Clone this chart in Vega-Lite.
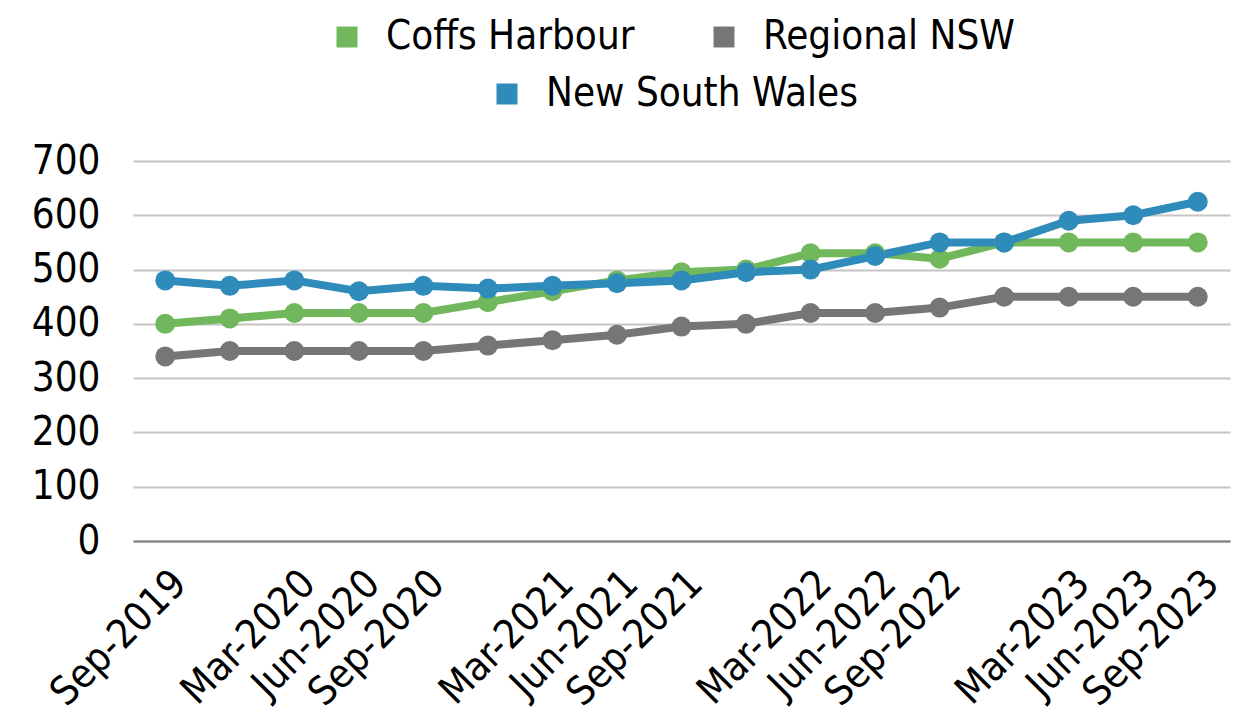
{
  "$schema": "https://vega.github.io/schema/vega-lite/v6.json",
  "width": 1097,
  "height": 380,
  "autosize": {"type": "none"},
  "padding": {"left": 133, "top": 161, "right": 19, "bottom": 175},
  "background": "white",
  "config": {
    "view": {"stroke": null},
    "font": "DejaVu Sans Condensed",
    "axis": {"labelFont": "DejaVu Sans Condensed", "labelFontSize": 40, "labelColor": "#000000"},
    "legend": {"labelFont": "DejaVu Sans Condensed", "labelFontSize": 40, "labelColor": "#000000", "labelLimit": 500}
  },
  "data": {
    "values": [
      {"q": "Sep-2019", "series": "Regional NSW", "v": 340},
      {"q": "Dec-2019", "series": "Regional NSW", "v": 350},
      {"q": "Mar-2020", "series": "Regional NSW", "v": 350},
      {"q": "Jun-2020", "series": "Regional NSW", "v": 350},
      {"q": "Sep-2020", "series": "Regional NSW", "v": 350},
      {"q": "Dec-2020", "series": "Regional NSW", "v": 360},
      {"q": "Mar-2021", "series": "Regional NSW", "v": 370},
      {"q": "Jun-2021", "series": "Regional NSW", "v": 380},
      {"q": "Sep-2021", "series": "Regional NSW", "v": 395},
      {"q": "Dec-2021", "series": "Regional NSW", "v": 400},
      {"q": "Mar-2022", "series": "Regional NSW", "v": 420},
      {"q": "Jun-2022", "series": "Regional NSW", "v": 420},
      {"q": "Sep-2022", "series": "Regional NSW", "v": 430},
      {"q": "Dec-2022", "series": "Regional NSW", "v": 450},
      {"q": "Mar-2023", "series": "Regional NSW", "v": 450},
      {"q": "Jun-2023", "series": "Regional NSW", "v": 450},
      {"q": "Sep-2023", "series": "Regional NSW", "v": 450},
      {"q": "Sep-2019", "series": "Coffs Harbour", "v": 400},
      {"q": "Dec-2019", "series": "Coffs Harbour", "v": 410},
      {"q": "Mar-2020", "series": "Coffs Harbour", "v": 420},
      {"q": "Jun-2020", "series": "Coffs Harbour", "v": 420},
      {"q": "Sep-2020", "series": "Coffs Harbour", "v": 420},
      {"q": "Dec-2020", "series": "Coffs Harbour", "v": 440},
      {"q": "Mar-2021", "series": "Coffs Harbour", "v": 460},
      {"q": "Jun-2021", "series": "Coffs Harbour", "v": 480},
      {"q": "Sep-2021", "series": "Coffs Harbour", "v": 495},
      {"q": "Dec-2021", "series": "Coffs Harbour", "v": 500},
      {"q": "Mar-2022", "series": "Coffs Harbour", "v": 530},
      {"q": "Jun-2022", "series": "Coffs Harbour", "v": 530},
      {"q": "Sep-2022", "series": "Coffs Harbour", "v": 520},
      {"q": "Dec-2022", "series": "Coffs Harbour", "v": 550},
      {"q": "Mar-2023", "series": "Coffs Harbour", "v": 550},
      {"q": "Jun-2023", "series": "Coffs Harbour", "v": 550},
      {"q": "Sep-2023", "series": "Coffs Harbour", "v": 550},
      {"q": "Sep-2019", "series": "New South Wales", "v": 480},
      {"q": "Dec-2019", "series": "New South Wales", "v": 470},
      {"q": "Mar-2020", "series": "New South Wales", "v": 480},
      {"q": "Jun-2020", "series": "New South Wales", "v": 460},
      {"q": "Sep-2020", "series": "New South Wales", "v": 470},
      {"q": "Dec-2020", "series": "New South Wales", "v": 465},
      {"q": "Mar-2021", "series": "New South Wales", "v": 470},
      {"q": "Jun-2021", "series": "New South Wales", "v": 475},
      {"q": "Sep-2021", "series": "New South Wales", "v": 480},
      {"q": "Dec-2021", "series": "New South Wales", "v": 495},
      {"q": "Mar-2022", "series": "New South Wales", "v": 500},
      {"q": "Jun-2022", "series": "New South Wales", "v": 525},
      {"q": "Sep-2022", "series": "New South Wales", "v": 550},
      {"q": "Dec-2022", "series": "New South Wales", "v": 550},
      {"q": "Mar-2023", "series": "New South Wales", "v": 590},
      {"q": "Jun-2023", "series": "New South Wales", "v": 600},
      {"q": "Sep-2023", "series": "New South Wales", "v": 625}
    ]
  },
  "encoding": {
    "x": {
      "field": "q", "type": "ordinal", "sort": null,
      "scale": {"type": "point", "padding": 0.5},
      "axis": {
        "title": null, "ticks": false, "grid": false,
        "domainColor": "#7f7f7f", "domainWidth": 2,
        "labelAngle": -45, "labelAlign": "right", "labelBaseline": "top",
        "labelPadding": 22, "labelOverlap": false,
        "labelExpr": "indexof(datum.label, 'Dec') == 0 ? '' : datum.label"
      }
    },
    "y": {
      "field": "v", "type": "quantitative",
      "scale": {"domain": [0, 700], "nice": false},
      "axis": {
        "title": null, "values": [0, 100, 200, 300, 400, 500, 600, 700],
        "domain": false, "ticks": false, "labelPadding": 33,
        "gridColor": "#c4c4c4", "gridWidth": 2
      }
    }
  },
  "layer": [
    {
      "mark": {"type": "line", "strokeWidth": 8},
      "encoding": {
        "stroke": {
          "field": "series", "type": "nominal",
          "scale": {"domain": ["New South Wales", "Regional NSW", "Coffs Harbour"], "range": ["#2E8BBA", "#767676", "#71B85C"]},
          "legend": {
            "values": ["New South Wales"], "orient": "none", "legendX": 354, "legendY": -87,
            "title": null, "symbolType": "square", "symbolSize": 441, "labelOffset": 19,
            "encode": {"symbols": {"update": {"fill": {"value": "#2E8BBA"}, "strokeWidth": {"value": 0}}}}
          }
        }
      }
    },
    {
      "mark": {"type": "point", "filled": true, "opacity": 1, "size": 400},
      "encoding": {
        "color": {
          "field": "series", "type": "nominal",
          "scale": {"domain": ["Coffs Harbour", "Regional NSW", "New South Wales"], "range": ["#71B85C", "#767676", "#2E8BBA"]},
          "legend": {
            "values": ["Coffs Harbour", "Regional NSW"], "orient": "none", "direction": "horizontal",
            "legendX": 194, "legendY": -144, "title": null,
            "symbolType": "square", "symbolSize": 441, "symbolStrokeWidth": 0, "symbolOpacity": 1,
            "labelOffset": 19, "columnPadding": 69
          }
        }
      }
    }
  ]
}
